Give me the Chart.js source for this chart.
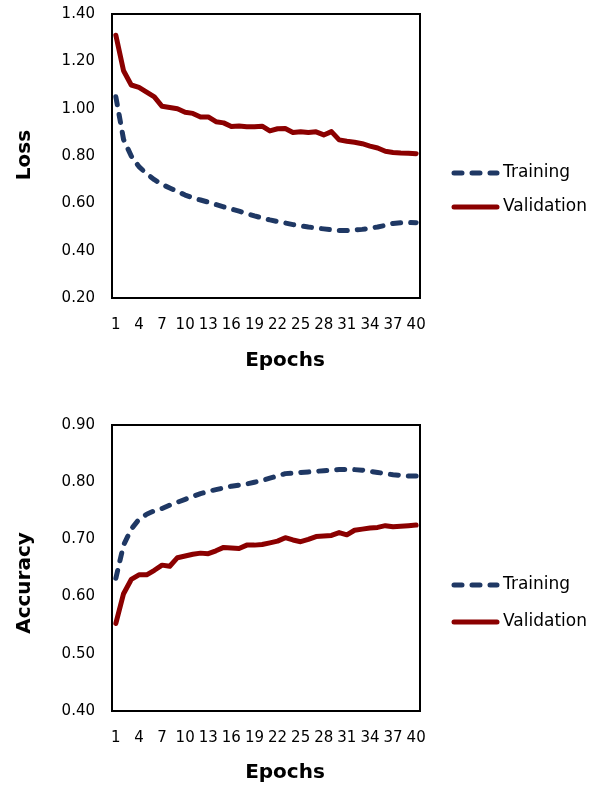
<!DOCTYPE html>
<html>
<head>
<meta charset="utf-8">
<script src="https://cdn.jsdelivr.net/npm/chart.js@4"></script>
<style>
  body { margin: 0; background: #fff; }
  .box { position: absolute; left: 0; width: 600px; height: 393px; }
  #lossBox { top: 0; }
  #accBox { top: 393px; }
</style>
</head>
<body>
<div class="box" id="lossBox"><canvas id="lossChart" width="600" height="393"></canvas></div>
<div class="box" id="accBox"><canvas id="accChart" width="600" height="393"></canvas></div>
<script>
// epochs 1..40
const epochs = ["1","2","3","4","5","6","7","8","9","10","11","12","13","14","15","16","17","18","19","20",
  "21","22","23","24","25","26","27","28","29","30","31","32","33","34","35","36","37","38","39","40"];

const trainLoss = [1.05, 0.87, 0.80, 0.755, 0.725, 0.70, 0.68, 0.665, 0.65, 0.635,
  0.623, 0.614, 0.605, 0.595, 0.585, 0.576, 0.567, 0.557, 0.547, 0.538,
  0.530, 0.523, 0.517, 0.510, 0.505, 0.500, 0.496, 0.492, 0.488, 0.485,
  0.485, 0.487, 0.490, 0.495, 0.500, 0.507, 0.515, 0.518, 0.519, 0.518];
const valLoss = [1.31, 1.16, 1.10, 1.09, 1.07, 1.05, 1.01, 1.005, 1.00, 0.985,
  0.98, 0.965, 0.965, 0.945, 0.94, 0.925, 0.927, 0.924, 0.924, 0.926,
  0.906, 0.915, 0.916, 0.899, 0.902, 0.899, 0.902, 0.889, 0.903, 0.868,
  0.862, 0.858, 0.852, 0.842, 0.834, 0.820, 0.815, 0.813, 0.812, 0.810];

const trainAcc = [0.632, 0.69, 0.718, 0.735, 0.744, 0.75, 0.754, 0.76, 0.765, 0.77,
  0.775, 0.78, 0.784, 0.787, 0.79, 0.793, 0.795, 0.797, 0.80, 0.803,
  0.807, 0.811, 0.815, 0.816, 0.817, 0.818, 0.819, 0.82, 0.821, 0.822,
  0.822, 0.822, 0.821, 0.819, 0.817, 0.815, 0.813, 0.812, 0.811, 0.811];
const valAcc = [0.553, 0.605, 0.630, 0.638, 0.638, 0.646, 0.655, 0.653, 0.668, 0.671,
  0.674, 0.676, 0.675, 0.680, 0.686, 0.685, 0.684, 0.690, 0.690, 0.691,
  0.694, 0.697, 0.703, 0.699, 0.696, 0.700, 0.705, 0.706, 0.707, 0.712,
  0.708, 0.716, 0.718, 0.720, 0.721, 0.724, 0.722, 0.723, 0.724, 0.725];

const seriesNames = ["Training", "Validation"];
const navy = "#1f3864";
const darkRed = "#8b0000";

Chart.defaults.font.family = "'DejaVu Sans', sans-serif";
Chart.defaults.font.size = 15;
Chart.defaults.color = "#000";

// black box round the plot area
const frame = {
  id: "frame",
  afterDatasetsDraw(chart) {
    const { ctx, chartArea: a } = chart;
    ctx.save();
    ctx.strokeStyle = "#000";
    ctx.lineWidth = 2;
    ctx.strokeRect(a.left, a.top, a.right - a.left, a.bottom - a.top);
    ctx.restore();
  },
};

// axis titles + legend on the right, excel style
const extras = {
  id: "extras",
  afterDraw(chart, args, opts) {
    const ctx = chart.ctx;
    ctx.save();
    ctx.fillStyle = "#000";
    ctx.font = "bold 20px 'DejaVu Sans', sans-serif";
    ctx.textAlign = "center";
    ctx.textBaseline = "middle";
    ctx.fillText(opts.xTitle, 285, opts.xTitleY);
    ctx.save();
    ctx.translate(25, opts.yTitleY);
    ctx.rotate(-Math.PI / 2);
    ctx.fillText(opts.yTitle, 0, 0);
    ctx.restore();

    ctx.font = "17px 'DejaVu Sans', sans-serif";
    ctx.textAlign = "left";
    chart.data.datasets.forEach((ds, i) => {
      const y = opts.legendY[i];
      ctx.save();
      ctx.strokeStyle = ds.borderColor;
      ctx.lineWidth = ds.borderWidth;
      ctx.lineCap = "round";
      ctx.setLineDash(ds.borderDash || []);
      ctx.beginPath();
      ctx.moveTo(454, y);
      ctx.lineTo(497, y);
      ctx.stroke();
      ctx.restore();
      ctx.fillText(ds.label, 503, y);
    });
    ctx.restore();
  },
};

function makeChart(id, train, val, yMin, yMax, step, opts) {
  return new Chart(document.getElementById(id), {
    type: "line",
    data: {
      labels: epochs,
      datasets: [
        {
          label: seriesNames[0],
          data: train,
          borderColor: navy,
          borderWidth: 5,
          borderDash: [8, 10],
          borderCapStyle: "round",
          borderJoinStyle: "round",
          pointRadius: 0,
        },
        {
          label: seriesNames[1],
          data: val,
          borderColor: darkRed,
          borderWidth: 5,
          borderCapStyle: "round",
          borderJoinStyle: "round",
          pointRadius: 0,
        },
      ],
    },
    options: {
      responsive: false,
      animation: false,
      layout: { padding: { top: opts.padTop, right: 180, left: 0, bottom: 0 } },
      plugins: {
        legend: { display: false },
        tooltip: { enabled: false },
        extras: opts,
      },
      scales: {
        x: {
          offset: true,
          grid: { display: false, drawTicks: false },
          border: { display: false },
          ticks: {
            autoSkip: false,
            maxRotation: 0,
            padding: 18,
            callback: function (value, index) {
              return index % 3 === 0 ? this.getLabelForValue(value) : "";
            },
          },
          afterFit(scale) {
            scale.height = opts.xHeight;
            scale.paddingLeft = 0;
            scale.paddingRight = 0;
          },
        },
        y: {
          min: yMin,
          max: yMax,
          grid: { display: false, drawTicks: false },
          border: { display: false },
          ticks: {
            stepSize: step,
            padding: 17,
            callback: (v) => v.toFixed(2),
          },
          afterFit(scale) {
            scale.width = 112;
            scale.paddingTop = 0;
            scale.paddingBottom = 0;
          },
        },
      },
    },
    plugins: [frame, extras],
  });
}

makeChart("lossChart", trainLoss, valLoss, 0.2, 1.4, 0.2, {
  padTop: 14, xHeight: 95,
  xTitle: "Epochs", xTitleY: 361,
  yTitle: "Loss", yTitleY: 155,
  legendY: [173, 207],
});

makeChart("accChart", trainAcc, valAcc, 0.4, 0.9, 0.1, {
  padTop: 32, xHeight: 75,
  xTitle: "Epochs", xTitleY: 380,
  yTitle: "Accuracy", yTitleY: 190,
  legendY: [192, 229],
});
</script>
</body>
</html>
